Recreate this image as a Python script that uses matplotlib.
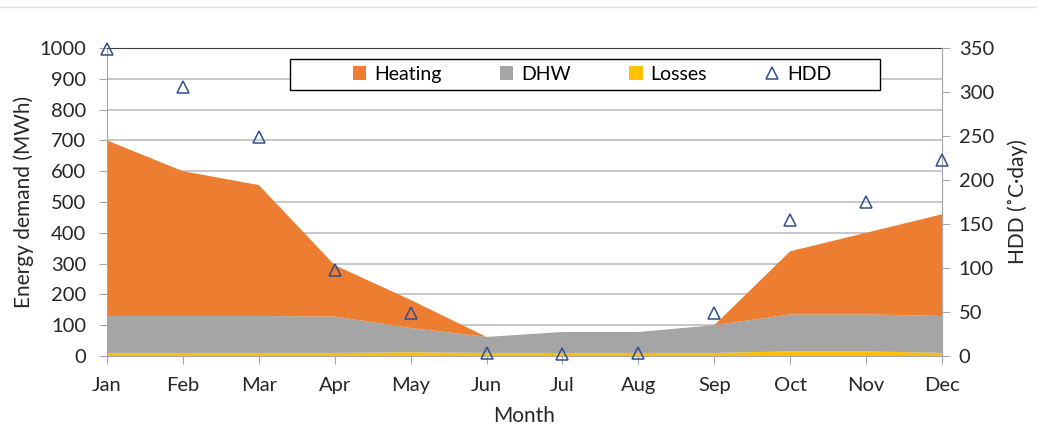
import matplotlib.pyplot as plt
import numpy as np
from matplotlib.patches import Patch, Rectangle
from matplotlib.lines import Line2D

plt.rcParams['font.family'] = ['Lato', 'DejaVu Sans']

# data
months = ['Jan', 'Feb', 'Mar', 'Apr', 'May', 'Jun', 'Jul', 'Aug', 'Sep', 'Oct', 'Nov', 'Dec']
losses = [10, 10, 10, 10, 12, 10, 10, 10, 10, 15, 15, 10]
dhw = [120, 120, 120, 118, 79, 52, 68, 68, 90, 120, 120, 120]
heating = [570, 470, 425, 167, 91, 0, 0, 0, 0, 205, 265, 330]
hdd = [349, 306, 249, 98, 49, 3, 2, 3, 49, 155, 175, 223]

x = np.arange(len(months))

fig = plt.figure(figsize=(10.37, 4.28), dpi=100)
ax = fig.add_axes([107/1037, 72/428, 835/1037, 308/428])

ax.stackplot(x, losses, dhw, heating,
             colors=['#FFC000', '#A5A5A5', '#ED7D31'], linewidth=0, zorder=2)

ax.set_xlim(0, 11)
ax.set_ylim(0, 1000)
ax.set_yticks(np.arange(0, 1001, 100))
ax.set_xticks(x)
ax.set_xticklabels(months)
ax.yaxis.grid(True, color='#BFBFBF', linewidth=1.2, zorder=0)
ax.set_axisbelow(True)
for s in ['left', 'bottom', 'right']:
    ax.spines[s].set_color('#A6A6A6')
ax.spines['top'].set_color('#404040')
ax.tick_params(axis='both', colors='#A6A6A6', labelcolor='#262626',
               labelsize=14.5, length=6, direction='out')
ax.tick_params(axis='x', pad=9)
ax.tick_params(axis='y', pad=9)
ax.set_xlabel('Month', fontsize=15, color='#262626', labelpad=9)
ax.set_ylabel('Energy demand (MWh)', fontsize=15, color='#262626', labelpad=4)

ax2 = ax.twinx()
ax2.set_ylim(0, 350)
ax2.set_yticks(np.arange(0, 351, 50))
ax2.plot(x, hdd, linestyle='none', marker='^', markersize=9,
         markerfacecolor='none', markeredgecolor='#2F4F8F', markeredgewidth=1.1,
         clip_on=False, zorder=5)
for s in ax2.spines.values():
    s.set_visible(False)
ax2.spines['right'].set_visible(True)
ax2.spines['right'].set_color('#A6A6A6')
ax2.tick_params(axis='y', colors='#A6A6A6', labelcolor='#262626',
                labelsize=14.5, length=6, direction='out', pad=6)
ax2.set_ylabel('HDD (˚C·day)', fontsize=15, color='#262626', labelpad=10)

# legend box drawn separately, entries centred inside it
fig.add_artist(Rectangle((290/1037, 1 - 90/428), 590/1037, 31/428,
                         transform=fig.transFigure, facecolor='white',
                         edgecolor='black', linewidth=1.0, zorder=9))
handles = [Patch(facecolor='#ED7D31', label='Heating'),
           Patch(facecolor='#A5A5A5', label='DHW'),
           Patch(facecolor='#FFC000', label='Losses'),
           Line2D([], [], linestyle='none', marker='^', markersize=8,
                  markerfacecolor='none', markeredgecolor='#2F4F8F',
                  markeredgewidth=1.1, label='HDD')]
leg = ax2.legend(handles=handles, ncol=4, loc='center',
                 bbox_to_anchor=(592/1037, 1 - 74.5/428),
                 bbox_transform=fig.transFigure, frameon=False,
                 fontsize=14, handlelength=0.7,
                 handleheight=0.7, handletextpad=0.4, columnspacing=3.0,
                 borderpad=0.2)
leg.set_zorder(10)
fig.legends.append(leg)
ax2.legend_ = None

fig.add_artist(Line2D([0, 1], [1 - 7/428, 1 - 7/428], color='#E0E0E0',
                      linewidth=1, transform=fig.transFigure))

fig.savefig('out.png', dpi=100)
